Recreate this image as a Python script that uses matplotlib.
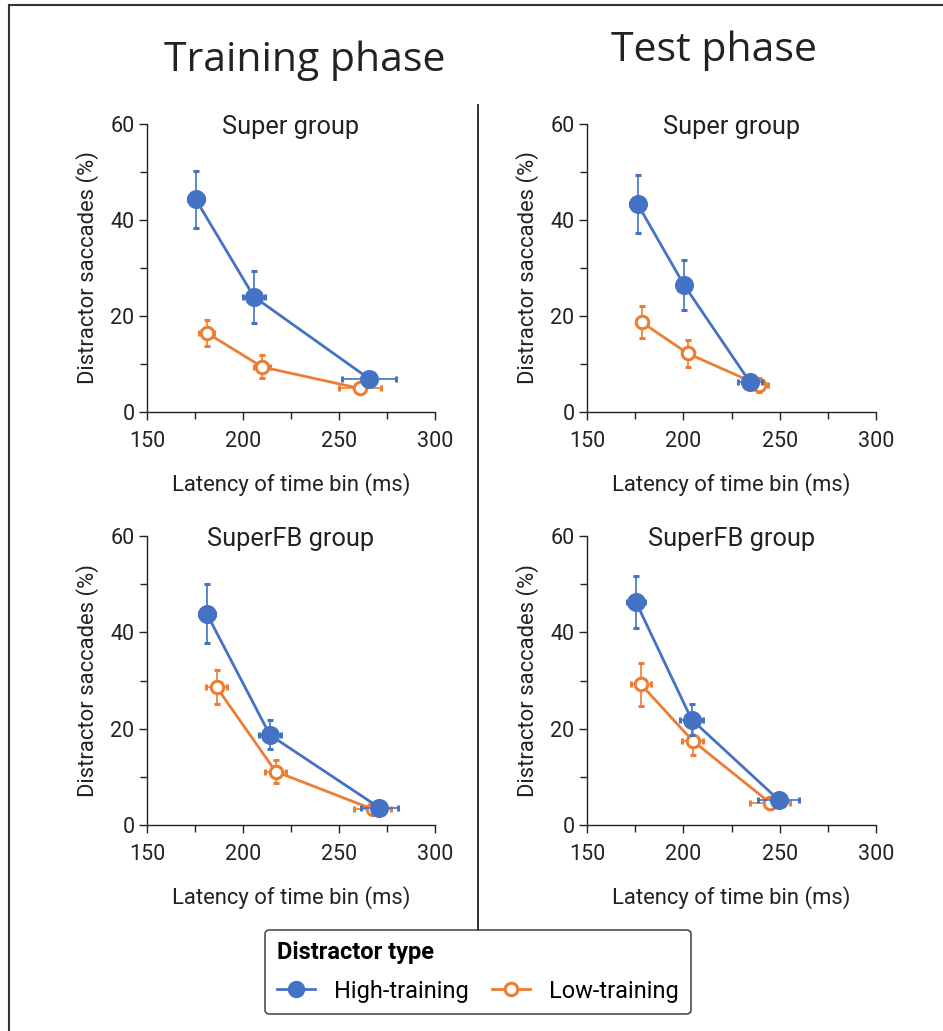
import numpy as np
import matplotlib
matplotlib.use('Agg')
import matplotlib.pyplot as plt
from matplotlib.lines import Line2D

plt.rcParams['font.family'] = ['Roboto', 'DejaVu Sans']

BLUE = '#4472C4'
ORANGE = '#ED7D31'

# ── Data ──────────────────────────────────────────────────────────────────────
# each panel: latency (ms), latency error, saccades (%), saccade error

# Training phase, Super group
tr_super_hi_x  = [175.4, 205.7, 265.8]
tr_super_hi_xe = [4.3, 5.6, 14.0]
tr_super_hi_y  = [44.3, 24.0, 6.9]
tr_super_hi_ye = [6.0, 5.4, 1.2]
tr_super_lo_x  = [181.1, 209.9, 260.9]
tr_super_lo_xe = [4.0, 4.0, 11.0]
tr_super_lo_y  = [16.5, 9.4, 4.9]
tr_super_lo_ye = [2.7, 2.4, 1.0]

# Test phase, Super group
te_super_hi_x  = [176.3, 200.3, 234.6]
te_super_hi_xe = [4.0, 2.5, 6.0]
te_super_hi_y  = [43.3, 26.5, 6.2]
te_super_hi_ye = [6.0, 5.2, 1.0]
te_super_lo_x  = [178.4, 202.3, 239.3]
te_super_lo_xe = [3.0, 3.0, 4.5]
te_super_lo_y  = [18.7, 12.2, 5.6]
te_super_lo_ye = [3.3, 2.9, 1.5]

# Training phase, SuperFB group
tr_fb_hi_x  = [181.1, 214.0, 271.0]
tr_fb_hi_xe = [4.2, 5.6, 9.5]
tr_fb_hi_y  = [43.9, 18.7, 3.6]
tr_fb_hi_ye = [6.2, 3.0, 0.8]
tr_fb_lo_x  = [186.3, 217.0, 267.5]
tr_fb_lo_xe = [5.4, 5.4, 9.5]
tr_fb_lo_y  = [28.6, 11.1, 3.3]
tr_fb_lo_ye = [3.5, 2.4, 0.8]

# Test phase, SuperFB group
te_fb_hi_x  = [175.4, 204.3, 249.5]
te_fb_hi_xe = [4.7, 6.0, 10.6]
te_fb_hi_y  = [46.3, 21.9, 5.2]
te_fb_hi_ye = [5.3, 3.2, 0.8]
te_fb_lo_x  = [178.0, 204.8, 245.0]
te_fb_lo_xe = [5.0, 5.6, 10.2]
te_fb_lo_y  = [29.2, 17.5, 4.6]
te_fb_lo_ye = [4.5, 3.0, 1.2]

PANELS = [
    ('Super group',   (tr_super_hi_x, tr_super_hi_xe, tr_super_hi_y, tr_super_hi_ye),
                      (tr_super_lo_x, tr_super_lo_xe, tr_super_lo_y, tr_super_lo_ye)),
    ('Super group',   (te_super_hi_x, te_super_hi_xe, te_super_hi_y, te_super_hi_ye),
                      (te_super_lo_x, te_super_lo_xe, te_super_lo_y, te_super_lo_ye)),
    ('SuperFB group', (tr_fb_hi_x, tr_fb_hi_xe, tr_fb_hi_y, tr_fb_hi_ye),
                      (tr_fb_lo_x, tr_fb_lo_xe, tr_fb_lo_y, tr_fb_lo_ye)),
    ('SuperFB group', (te_fb_hi_x, te_fb_hi_xe, te_fb_hi_y, te_fb_hi_ye),
                      (te_fb_lo_x, te_fb_lo_xe, te_fb_lo_y, te_fb_lo_ye)),
]

X_TICKS = [150, 200, 250, 300]
Y_TICKS = [0, 20, 40, 60]

W, H = 943, 1031
fig = plt.figure(figsize=(W / 100, H / 100), dpi=100)


def px_axes(x0, y_top, w, h):
    return fig.add_axes([x0 / W, 1 - (y_top + h) / H, w / W, h / H])


# axes boxes in pixels: (left, top, width, height)
boxes = [(147, 124, 288, 288), (587, 124, 289, 288),
         (147, 536, 288, 289), (587, 536, 289, 289)]


def draw_series(ax, series, color, filled):
    x, xe, y, ye = series
    mfc = color if filled else 'white'
    ms = 11.5 if filled else 9
    ax.errorbar(x, y, xerr=xe, yerr=ye, color=color, ecolor=color,
                elinewidth=1.2, capsize=2.5, capthick=1.2, lw=2.0,
                marker='o', ms=ms, mfc=mfc, mec=color, mew=2.2,
                clip_on=False, zorder=3 if filled else 2)


for (title, hi, lo), box in zip(PANELS, boxes):
    ax = px_axes(*box)
    draw_series(ax, lo, ORANGE, False)
    draw_series(ax, hi, BLUE, True)
    ax.set_xlim(150, 300)
    ax.set_ylim(0, 60)
    ax.set_xticks(X_TICKS)
    ax.set_yticks(Y_TICKS)
    ax.set_xticks([175, 225, 275], minor=True)
    ax.set_yticks([10, 30, 50], minor=True)
    ax.tick_params(which='both', direction='out', width=1.0, color='#222222',
                   labelsize=15.5, labelcolor='#222222')
    ax.tick_params(which='major', length=6)
    ax.tick_params(axis='x', which='major', pad=8)
    ax.tick_params(axis='y', which='major', pad=3)
    ax.tick_params(which='minor', length=5)
    for s in ('top', 'right'):
        ax.spines[s].set_visible(False)
    for s in ('left', 'bottom'):
        ax.spines[s].set_linewidth(1.0)
        ax.spines[s].set_color('#222222')
    ax.set_xlabel('Latency of time bin (ms)', fontsize=15.8, color='#222222', labelpad=15)
    ax.set_ylabel('Distractor saccades (%)', fontsize=15.8, color='#222222', labelpad=8)
    ax.text(0.5, 0.99, title, transform=ax.transAxes, ha='center', va='center',
            fontsize=18.3, color='#222222')
    ax.patch.set_alpha(0)

# phase headings
fig.text(305 / W, 1 - 61 / H, 'Training phase', ha='center', va='center',
         fontsize=29.5, color='#222222', family=['Open Sans', 'DejaVu Sans'])
fig.text(714 / W, 1 - 51 / H, 'Test phase', ha='center', va='center',
         fontsize=29.5, color='#222222', family=['Open Sans', 'DejaVu Sans'])

# frame lines and divider
fig.add_artist(Line2D([9 / W, 9 / W], [0, 1 - 5 / H], color='#333333', lw=1.5))
fig.add_artist(Line2D([9 / W, 1], [1 - 5 / H, 1 - 5 / H], color='#333333', lw=1.5))
fig.add_artist(Line2D([478 / W, 478 / W], [1 - 105 / H, 1 - 930 / H], color='#222222', lw=1.3))

# legend
handles = [
    Line2D([], [], color=BLUE, lw=2.0, marker='o', ms=11.5, mfc=BLUE, mec=BLUE),
    Line2D([], [], color=ORANGE, lw=2.0, marker='o', ms=9, mfc='white', mec=ORANGE, mew=2.2),
]
leg = fig.legend(handles, ['High-training', 'Low-training'], ncol=2,
                 loc='center', bbox_to_anchor=(478 / W, 1 - 972 / H),
                 title='Distractor type', alignment='left', fontsize=17,
                 title_fontproperties={'weight': 'bold', 'size': 17},
                 frameon=True, fancybox=True, edgecolor='#222222',
                 handlelength=1.6, handletextpad=0.8, columnspacing=1.0,
                 borderpad=0.5, labelspacing=0.65)
leg.get_frame().set_linewidth(1.2)

fig.savefig('out.png', dpi=100)
